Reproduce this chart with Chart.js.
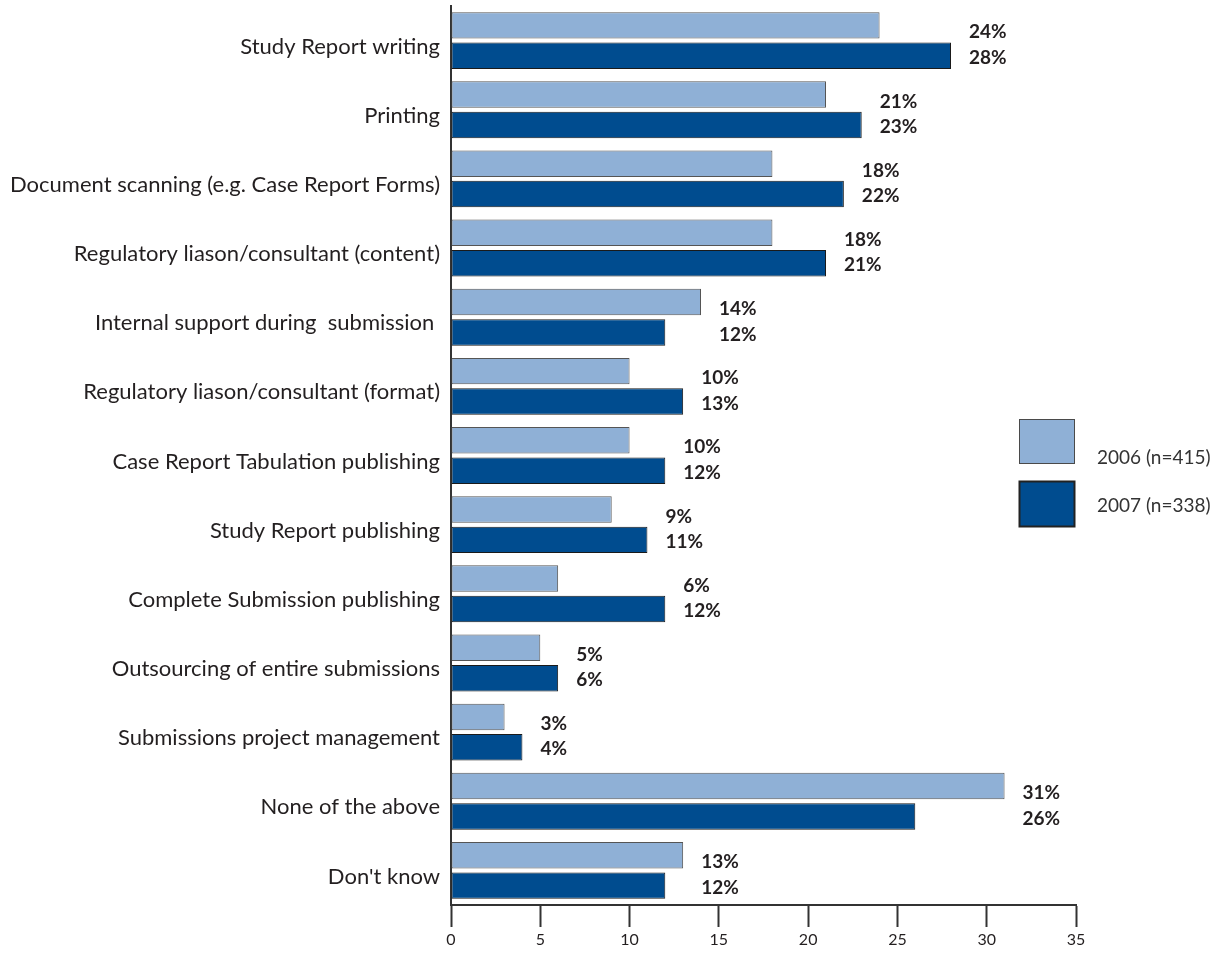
<!DOCTYPE html>
<html>
<head>
<meta charset="utf-8">
<script src="https://cdn.jsdelivr.net/npm/chart.js@4.4.1/dist/chart.umd.min.js"></script>
<style>
  html, body { margin: 0; padding: 0; background: #fff; }
  #wrap { width: 1227px; height: 953px; }
</style>
</head>
<body>
<div id="wrap"><canvas id="chart" width="1227" height="953"></canvas></div>
<script>
// Survey categories, top to bottom
const categories = [
  "Study Report writing",
  "Printing",
  "Document scanning (e.g. Case Report Forms)",
  "Regulatory liason/consultant (content)",
  "Internal support during  submission ",
  "Regulatory liason/consultant (format)",
  "Case Report Tabulation publishing",
  "Study Report publishing",
  "Complete Submission publishing",
  "Outsourcing of entire submissions",
  "Submissions project management",
  "None of the above",
  "Don't know",
];

const seriesNames = ["2006 (n=415)", "2007 (n=338)"];
const values2006 = [24, 21, 18, 18, 14, 10, 10, 9, 6, 5, 3, 31, 13];
const values2007 = [28, 23, 22, 21, 12, 13, 12, 11, 12, 6, 4, 26, 12];
const xTicks = [0, 5, 10, 15, 20, 25, 30, 35];

const lightBlue = "#8fb0d6";
const darkBlue = "#004c8f";
const ink = "#231f20";
const labelFont = "Lato, 'Open Sans', sans-serif";

// Percent labels stacked to the right of each pair of bars
const valueLabels = {
  id: "valueLabels",
  afterDatasetsDraw(chart) {
    const { ctx } = chart;
    const xs = chart.scales.x;
    const m0 = chart.getDatasetMeta(0);
    const m1 = chart.getDatasetMeta(1);
    ctx.save();
    ctx.font = "bold 19px " + labelFont;
    ctx.fillStyle = ink;
    ctx.textAlign = "left";
    ctx.textBaseline = "middle";
    categories.forEach((c, i) => {
      const a = values2006[i];
      const b = values2007[i];
      const x = xs.getPixelForValue(Math.max(a, b)) + 18;
      ctx.fillText(a + "%", x, m0.data[i].y + 7);
      ctx.fillText(b + "%", x, m1.data[i].y + 2);
    });
    ctx.restore();
  },
};

// Boxed legend at the right of the plot
const sideLegend = {
  id: "sideLegend",
  afterDraw(chart) {
    const { ctx, chartArea } = chart;
    const left = chartArea.right - 57;
    const boxes = [
      { top: 419, h: 44, textY: 458, fill: lightBlue, stroke: "#4a4a4a", lw: 1 },
      { top: 481, h: 45, textY: 506, fill: darkBlue, stroke: "#222", lw: 2 },
    ];
    ctx.save();
    boxes.forEach((b, i) => {
      ctx.fillStyle = b.fill;
      ctx.fillRect(left, b.top, 55, b.h);
      ctx.strokeStyle = b.stroke;
      ctx.lineWidth = b.lw;
      ctx.strokeRect(left + 0.5, b.top + 0.5, 55, b.h);
      ctx.font = "19px " + labelFont;
      ctx.fillStyle = "#333";
      ctx.textAlign = "left";
      ctx.textBaseline = "middle";
      ctx.fillText(seriesNames[i], left + 78, b.textY);
    });
    ctx.restore();
  },
};

new Chart(document.getElementById("chart").getContext("2d"), {
  type: "bar",
  data: {
    labels: categories,
    datasets: [
      {
        label: seriesNames[0],
        data: values2006,
        backgroundColor: lightBlue,
        borderColor: "#555",
        borderWidth: 1,
        borderSkipped: false,
        categoryPercentage: 0.88,
        barPercentage: 0.87,
      },
      {
        label: seriesNames[1],
        data: values2007,
        backgroundColor: darkBlue,
        borderColor: "#1a1a1a",
        borderWidth: 1,
        borderSkipped: false,
        categoryPercentage: 0.88,
        barPercentage: 0.87,
      },
    ],
  },
  options: {
    indexAxis: "y",
    responsive: false,
    animation: false,
    layout: { padding: { top: 6, right: 151, left: 0, bottom: 0 } },
    plugins: {
      legend: { display: false },
      tooltip: { enabled: false },
    },
    scales: {
      x: {
        min: 0,
        max: 35,
        afterBuildTicks: (s) => { s.ticks = xTicks.map((v) => ({ value: v })); },
        afterFit: (s) => { s.height = 48; },
        grid: {
          drawOnChartArea: false,
          drawTicks: true,
          tickLength: 22,
          tickWidth: 2,
          color: "#333",
        },
        border: { display: true, color: "#333", width: 2 },
        ticks: {
          color: ink,
          padding: 3,
          font: { family: labelFont, size: 16 },
          maxRotation: 0,
        },
      },
      y: {
        afterFit: (s) => {
          s.width = 451;
          s.paddingTop = 0;
          s.paddingBottom = 0;
        },
        grid: { drawOnChartArea: false, drawTicks: false },
        border: { display: true, color: "#333", width: 2 },
        ticks: {
          color: ink,
          padding: 11,
          labelOffset: 6,
          font: { family: labelFont, size: 22 },
          autoSkip: false,
        },
      },
    },
  },
  plugins: [valueLabels, sideLegend],
});
</script>
</body>
</html>
